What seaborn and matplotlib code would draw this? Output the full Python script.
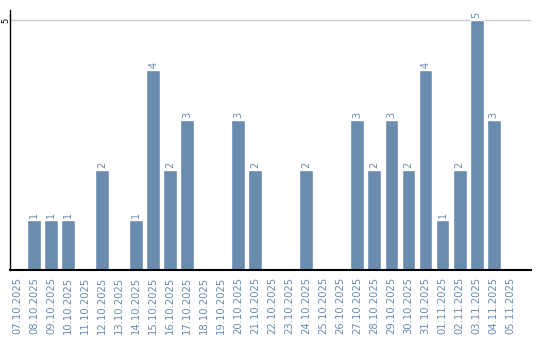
import matplotlib
matplotlib.use("Agg")
import matplotlib.pyplot as plt
import seaborn as sns
import pandas as pd

dates = ["07.10.2025", "08.10.2025", "09.10.2025", "10.10.2025", "11.10.2025",
         "12.10.2025", "13.10.2025", "14.10.2025", "15.10.2025", "16.10.2025",
         "17.10.2025", "18.10.2025", "19.10.2025", "20.10.2025", "21.10.2025",
         "22.10.2025", "23.10.2025", "24.10.2025", "25.10.2025", "26.10.2025",
         "27.10.2025", "28.10.2025", "29.10.2025", "30.10.2025", "31.10.2025",
         "01.11.2025", "02.11.2025", "03.11.2025", "04.11.2025", "05.11.2025"]
counts = [0, 1, 1, 1, 0, 2, 0, 1, 4, 2, 3, 0, 0, 3, 2,
          0, 0, 2, 0, 0, 3, 2, 3, 2, 4, 1, 2, 5, 3, 0]

sns.set_theme(style="white")
plt.rcParams["font.family"] = ["DejaVu Sans"]

BAR = "#6a8caf"
df = pd.DataFrame({"date": dates, "count": counts})

fig = plt.figure(figsize=(5.4, 3.4), dpi=100)
ax = fig.add_axes([10 / 540, 70 / 340, 521 / 540, 260 / 340])
sns.barplot(data=df, x="date", y="count", color=BAR, saturation=1, width=0.82, ax=ax)

ax.set_ylim(0, 5.2)
ax.set_xlim(-0.42, len(dates) - 1 + 1.2)
ax.set_yticks([5])
ax.set_yticklabels(["5"], rotation=90, va="center", fontsize=6, color="black")
ax.axhline(5, color="#cccccc", lw=1, zorder=0)
ax.set_xticks(range(len(dates)))
ax.set_xticklabels(dates, rotation=90, fontsize=7.2, color=BAR)
ax.tick_params(axis="x", length=0, pad=5)
ax.tick_params(axis="y", length=0, pad=0)
ax.set_xlabel("")
ax.set_ylabel("")

for i, v in enumerate(counts):
    if v > 0:
        ax.text(i, v + 0.04, str(v), rotation=90, ha="center", va="bottom",
                fontsize=7, color=BAR)

for s in ["top", "right"]:
    ax.spines[s].set_visible(False)
ax.spines["left"].set_color("black")
ax.spines["left"].set_linewidth(1)
ax.spines["bottom"].set_color("black")
ax.spines["bottom"].set_linewidth(1.5)

fig.savefig("out.png", dpi=100)
